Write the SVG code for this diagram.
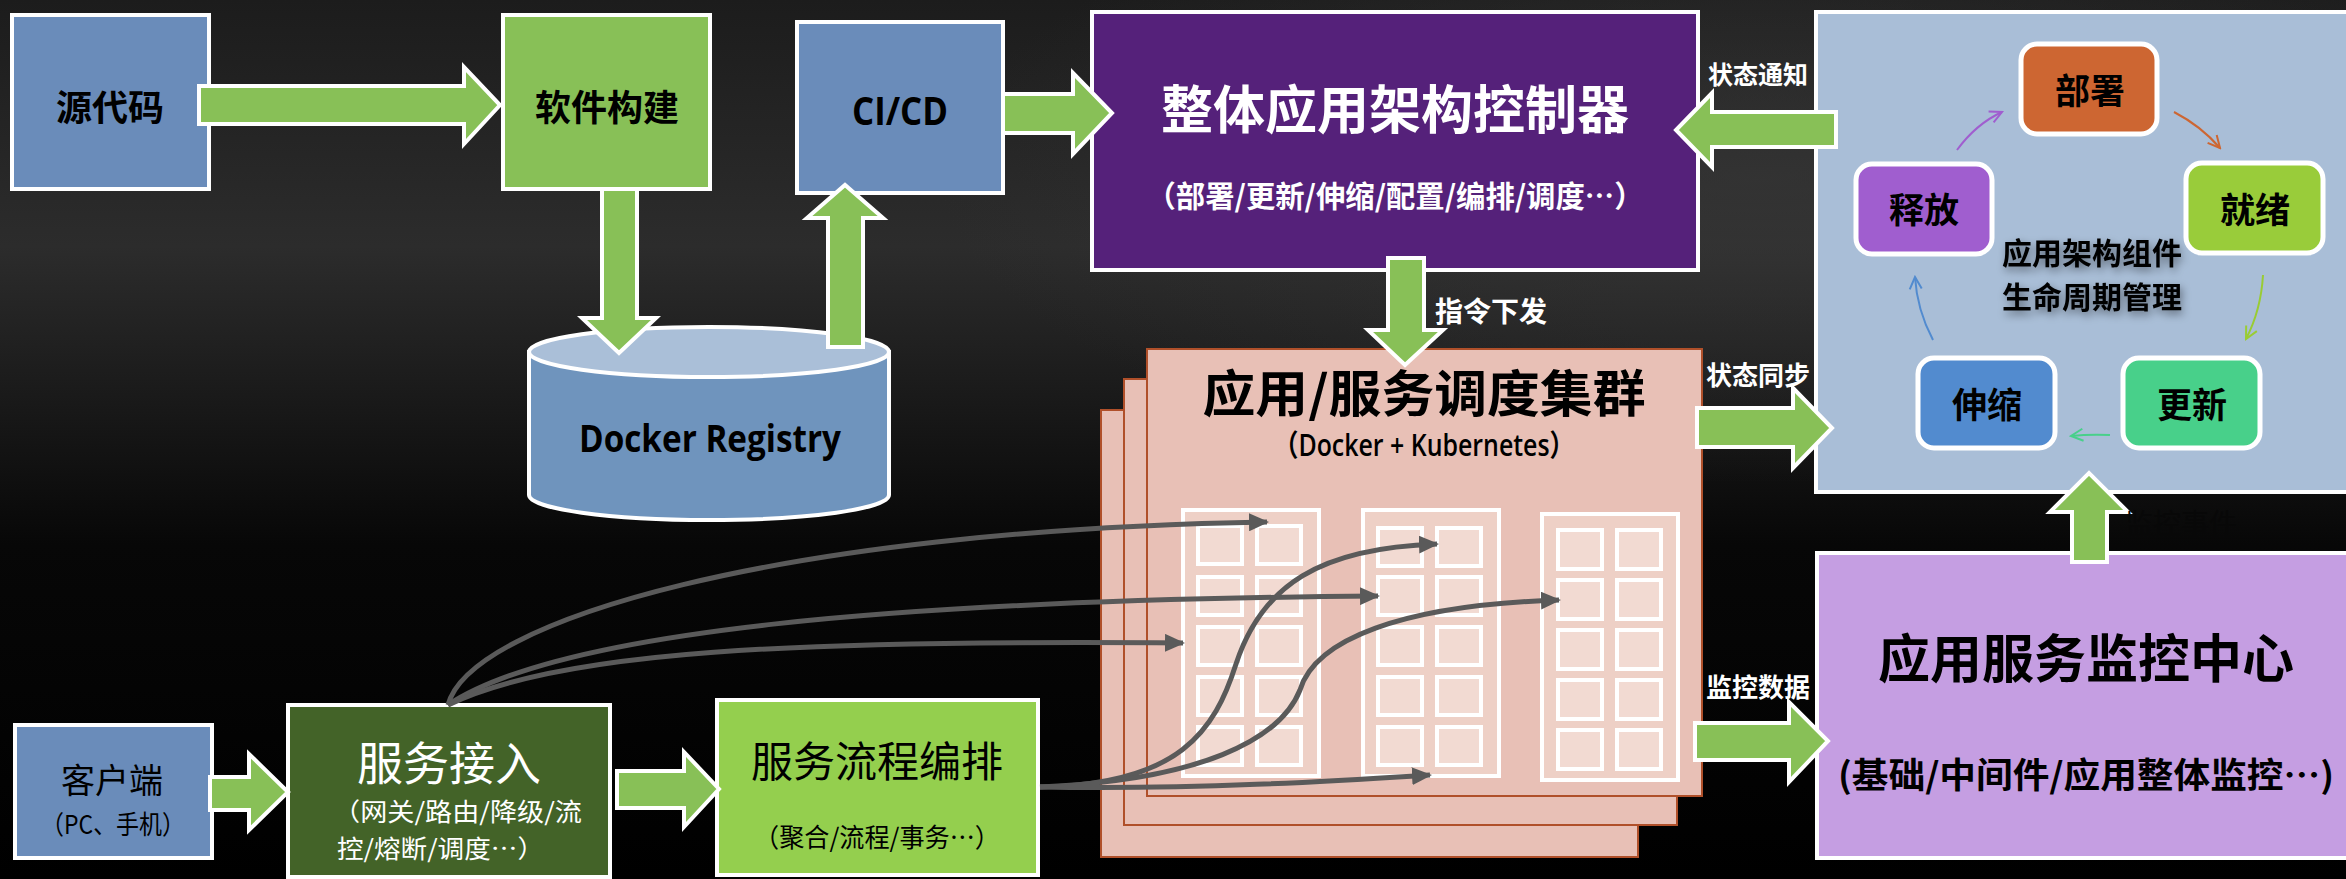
<svg xmlns="http://www.w3.org/2000/svg" width="2346" height="879" viewBox="0 0 2346 879">
<defs>
<linearGradient id="bg" x1="0" y1="0" x2="0" y2="1">
<stop offset="0" stop-color="#1c1c1c"/>
<stop offset="0.28" stop-color="#2c2c2c"/>
<stop offset="0.45" stop-color="#1a1a1a"/>
<stop offset="0.62" stop-color="#070707"/>
<stop offset="1" stop-color="#000"/>
</linearGradient>
<radialGradient id="glow" cx="0.75" cy="0.2" r="0.35">
<stop offset="0" stop-color="#3a3a3a" stop-opacity="0.6"/>
<stop offset="1" stop-color="#3a3a3a" stop-opacity="0"/>
</radialGradient>
<marker id="gh" markerUnits="userSpaceOnUse" viewBox="0 0 20 18" markerWidth="20" markerHeight="18" refX="18" refY="9" orient="auto">
<path d="M0,0 L20,9 L0,18 Z" fill="#5a5a5a"/>
</marker>
<marker id="mp" markerUnits="userSpaceOnUse" viewBox="0 0 16 16" markerWidth="16" markerHeight="16" refX="14" refY="8" orient="auto"><path d="M2,2 L14,8 L2,14" fill="none" stroke="#a05ecf" stroke-width="2"/></marker>
<marker id="mo" markerUnits="userSpaceOnUse" viewBox="0 0 16 16" markerWidth="16" markerHeight="16" refX="14" refY="8" orient="auto"><path d="M2,2 L14,8 L2,14" fill="none" stroke="#cd6632" stroke-width="2"/></marker>
<marker id="my" markerUnits="userSpaceOnUse" viewBox="0 0 16 16" markerWidth="16" markerHeight="16" refX="14" refY="8" orient="auto"><path d="M2,2 L14,8 L2,14" fill="none" stroke="#99cc33" stroke-width="2"/></marker>
<marker id="mg" markerUnits="userSpaceOnUse" viewBox="0 0 16 16" markerWidth="16" markerHeight="16" refX="14" refY="8" orient="auto"><path d="M2,2 L14,8 L2,14" fill="none" stroke="#48d08a" stroke-width="2"/></marker>
<marker id="mb" markerUnits="userSpaceOnUse" viewBox="0 0 16 16" markerWidth="16" markerHeight="16" refX="14" refY="8" orient="auto"><path d="M2,2 L14,8 L2,14" fill="none" stroke="#528bcf" stroke-width="2"/></marker>
<filter id="sh" x="-20%" y="-40%" width="140%" height="180%">
<feDropShadow dx="2" dy="4" stdDeviation="4" flood-color="#000" flood-opacity="0.45"/>
</filter>
<style>
.box{stroke:#fff;stroke-width:4}
.arr{fill:#88c057;stroke:#fff;stroke-width:4;stroke-linejoin:miter}
.t{font-family:"Noto Sans CJK SC","Noto Sans",sans-serif;text-anchor:middle;dominant-baseline:central}
.b{font-weight:bold}
.w{fill:#fff}
.k{fill:#000}
.lat{font-family:"Open Sans","Noto Sans",sans-serif;text-anchor:middle}
.sheet{fill:#e8c0b6;stroke:#b0502a;stroke-width:2}
.rack{fill:#f2dcd4;fill-opacity:0.55;stroke:#fff;stroke-width:4}
.cell{fill:#f6e4de;fill-opacity:0.5;stroke:#fff;stroke-width:4}
.cur{fill:none;stroke:#5a5a5a;stroke-width:5;marker-end:url(#gh)}
.lc{stroke:#fff;stroke-width:5}
.cyc{fill:none;stroke-width:2}
</style>
</defs>
<rect x="0" y="0" width="2346" height="879" fill="url(#bg)"/>
<rect x="0" y="0" width="2346" height="879" fill="url(#glow)"/>

<g id="source">
<rect class="box" x="12" y="15" width="197" height="174" fill="#6a8cba"/>
<text class="t b k" x="110" y="105" font-size="36">源代码</text>
</g>
<g id="build">
<rect class="box" x="503" y="15" width="207" height="174" fill="#88c057"/>
<text class="t b k" x="607" y="105" font-size="36">软件构建</text>
</g>
<g id="registry">
<path class="box" d="M529,352 L529,495 A180,25 0 0 0 889,495 L889,352 Z" fill="#6f94bd"/>
<ellipse class="box" cx="709" cy="352" rx="180" ry="25" fill="#aabfd8"/>
<text class="lat b k" x="710" y="452" font-size="38" textLength="262" lengthAdjust="spacingAndGlyphs">Docker Registry</text>
</g>
<g id="cicd">
<rect class="box" x="797" y="22" width="206" height="171" fill="#6a8cba"/>
<text class="lat b k" x="900" y="125" font-size="40" textLength="96" lengthAdjust="spacingAndGlyphs">CI/CD</text>
</g>
<g id="controller">
<rect class="box" x="1092" y="12" width="606" height="258" fill="#55217a"/>
<text class="t b w" x="1395" y="106" font-size="52">整体应用架构控制器</text>
<text class="t b w" x="1395" y="194" font-size="30" textLength="497" lengthAdjust="spacingAndGlyphs">（部署/更新/伸缩/配置/编排/调度…）</text>
</g>
<g id="cluster">
<rect class="sheet" x="1101" y="410" width="537" height="447"/>
<rect class="sheet" x="1124" y="379" width="553" height="446"/>
<rect class="sheet" x="1147" y="349" width="555" height="447"/>
<text class="t b k" x="1424" y="390" font-size="50" textLength="443" lengthAdjust="spacingAndGlyphs">应用/服务调度集群</text>
<text class="k" x="1424" y="456" font-size="30" font-weight="600" text-anchor="middle" font-family="Open Sans, Noto Sans CJK SC, sans-serif" textLength="301" lengthAdjust="spacingAndGlyphs">（Docker + Kubernetes）</text>
<rect class="rack" x="1183" y="510" width="136" height="266"/>
<rect class="rack" x="1363" y="510" width="136" height="266"/>
<rect class="rack" x="1542" y="514" width="136" height="266"/>
<g>
<rect class="cell" x="1198" y="526" width="44" height="38"/><rect class="cell" x="1257" y="526" width="44" height="38"/>
<rect class="cell" x="1198" y="577" width="44" height="38"/><rect class="cell" x="1257" y="577" width="44" height="38"/>
<rect class="cell" x="1198" y="627" width="44" height="38"/><rect class="cell" x="1257" y="627" width="44" height="38"/>
<rect class="cell" x="1198" y="677" width="44" height="38"/><rect class="cell" x="1257" y="677" width="44" height="38"/>
<rect class="cell" x="1198" y="727" width="44" height="38"/><rect class="cell" x="1257" y="727" width="44" height="38"/>
<rect class="cell" x="1378" y="528" width="44" height="38"/><rect class="cell" x="1437" y="528" width="44" height="38"/>
<rect class="cell" x="1378" y="577" width="44" height="38"/><rect class="cell" x="1437" y="577" width="44" height="38"/>
<rect class="cell" x="1378" y="627" width="44" height="38"/><rect class="cell" x="1437" y="627" width="44" height="38"/>
<rect class="cell" x="1378" y="677" width="44" height="38"/><rect class="cell" x="1437" y="677" width="44" height="38"/>
<rect class="cell" x="1378" y="727" width="44" height="38"/><rect class="cell" x="1437" y="727" width="44" height="38"/>
<rect class="cell" x="1558" y="530" width="44" height="39"/><rect class="cell" x="1617" y="530" width="44" height="39"/>
<rect class="cell" x="1558" y="580" width="44" height="39"/><rect class="cell" x="1617" y="580" width="44" height="39"/>
<rect class="cell" x="1558" y="630" width="44" height="39"/><rect class="cell" x="1617" y="630" width="44" height="39"/>
<rect class="cell" x="1558" y="680" width="44" height="39"/><rect class="cell" x="1617" y="680" width="44" height="39"/>
<rect class="cell" x="1558" y="730" width="44" height="39"/><rect class="cell" x="1617" y="730" width="44" height="39"/>
</g>
</g>
<g id="lifecycle">
<rect class="box" x="1816" y="12" width="545" height="480" fill="#a9bed7"/>
<g id="deploy"><rect class="lc" x="2021" y="44" width="136" height="90" rx="16" fill="#cd6632"/><text class="t b k" x="2090" y="88" font-size="35">部署</text></g>
<g id="ready"><rect class="lc" x="2186" y="163" width="137" height="90" rx="16" fill="#99cc3a"/><text class="t b k" x="2255" y="207" font-size="35">就绪</text></g>
<g id="update"><rect class="lc" x="2123" y="358" width="137" height="90" rx="16" fill="#48d08a"/><text class="t b k" x="2192" y="402" font-size="35">更新</text></g>
<g id="scale"><rect class="lc" x="1918" y="358" width="137" height="90" rx="16" fill="#528bcf"/><text class="t b k" x="1987" y="402" font-size="35">伸缩</text></g>
<g id="release"><rect class="lc" x="1856" y="164" width="136" height="90" rx="16" fill="#a05ecf"/><text class="t b k" x="1924" y="207" font-size="35">释放</text></g>
<g filter="url(#sh)">
<text class="t b k" x="2092" y="251" font-size="30">应用架构组件</text>
<text class="t b k" x="2092" y="295" font-size="30">生命周期管理</text>
</g>
<path class="cyc" stroke="#a05ecf" marker-end="url(#mp)" d="M1957,150 Q1976,124 2002,112"/>
<path class="cyc" stroke="#cd6632" marker-end="url(#mo)" d="M2174,112 Q2201,126 2220,148"/>
<path class="cyc" stroke="#99cc33" marker-end="url(#my)" d="M2263,275 Q2261,310 2246,339"/>
<path class="cyc" stroke="#48d08a" marker-end="url(#mg)" d="M2110,435 Q2090,434 2071,436"/>
<path class="cyc" stroke="#528bcf" marker-end="url(#mb)" d="M1933,340 Q1917,310 1915,277"/>
</g>
<g id="monitor">
<rect class="box" x="1817" y="553" width="544" height="305" fill="#c59ee2"/>
<text class="t b k" x="2086" y="655" font-size="52">应用服务监控中心</text>
<text class="t b k" x="2086" y="772" font-size="35" textLength="496" lengthAdjust="spacingAndGlyphs">(基础/中间件/应用整体监控…)</text>
</g>
<g id="client">
<rect class="box" x="15" y="725" width="197" height="133" fill="#6a8cba"/>
<text class="t k" x="112" y="778" font-size="34">客户端</text>
<text class="t k" x="113" y="822" font-size="26" textLength="144" lengthAdjust="spacingAndGlyphs">（PC、手机）</text>
</g>
<g id="gateway">
<rect class="box" x="288" y="705" width="322" height="172" fill="#436328"/>
<text class="t w" x="449" y="760" font-size="46">服务接入</text>
<text class="w" x="333" y="810" font-size="25" dominant-baseline="central" font-family="Noto Sans CJK SC, sans-serif" textLength="249" lengthAdjust="spacingAndGlyphs">（网关/路由/降级/流</text>
<text class="w" x="337" y="847" font-size="25" dominant-baseline="central" font-family="Noto Sans CJK SC, sans-serif" textLength="207" lengthAdjust="spacingAndGlyphs">控/熔断/调度…）</text>
</g>
<g id="orchestration">
<rect class="box" x="717" y="700" width="321" height="175" fill="#94cf4e"/>
<text class="t k" x="877" y="758" font-size="42">服务流程编排</text>
<text class="t k" x="877" y="835" font-size="26" textLength="246" lengthAdjust="spacingAndGlyphs">（聚合/流程/事务…）</text>
</g>

<g id="connectors">
<polygon class="arr" points="199,86 464,86 464,67 500,105 464,144 464,124 199,124"/>
<polygon class="arr" points="602,189 637,189 637,318 656,318 619,353 582,318 602,318"/>
<polygon class="arr" points="828,347 863,347 863,218 883,218 845,185 807,218 828,218"/>
<polygon class="arr" points="1003,94 1073,94 1073,73 1112,113 1073,154 1073,133 1003,133"/>
<polygon class="arr" points="1836,112 1712,112 1712,93 1676,130 1712,167 1712,147 1836,147"/>
<polygon class="arr" points="1388,258 1424,258 1424,330 1443,330 1405,365 1368,330 1388,330"/>
<polygon class="arr" points="1697,408 1793,408 1793,388 1832,428 1793,468 1793,447 1697,447"/>
<polygon class="arr" points="1695,723 1789,723 1789,702 1828,741 1789,782 1789,760 1695,760"/>
<polygon class="arr" points="2072,562 2107,562 2107,512 2128,512 2089,473 2050,512 2072,512"/>
<polygon class="arr" points="210,777 249,777 249,754 288,792 249,830 249,810 210,810"/>
<polygon class="arr" points="617,771 684,771 684,752 719,789 684,827 684,808 617,808"/>
<path class="cur" d="M448,705 C470,620 780,530 1267,522"/>
<path class="cur" d="M448,705 C560,630 900,600 1378,596"/>
<path class="cur" d="M448,705 C560,650 800,640 1183,643"/>
<path class="cur" d="M1040,787 C1180,785 1215,730 1236,664 C1262,585 1320,548 1437,544"/>
<path class="cur" d="M1040,787 C1200,780 1280,740 1300,690 C1315,640 1400,605 1559,600"/>
<path class="cur" d="M1040,787 C1200,790 1350,780 1430,775"/>
<text class="t b w" x="1491" y="310" font-size="28">指令下发</text>
<text class="t b w" x="1758" y="73" font-size="25">状态通知</text>
<text class="t b w" x="1758" y="373" font-size="26">状态同步</text>
<text class="t b w" x="1758" y="685" font-size="26">监控数据</text>
<text class="t" x="2181" y="522" font-size="28" fill="#080808">监控事件</text>
</g>
</svg>
